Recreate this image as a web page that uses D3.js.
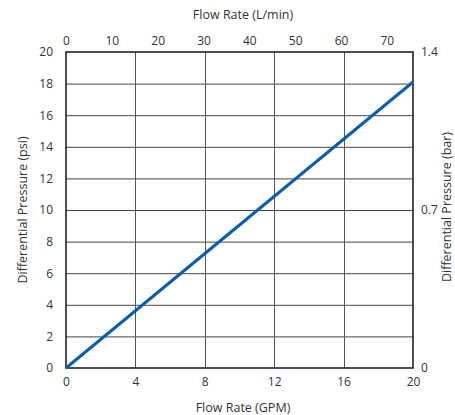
<!DOCTYPE html>
<html><head><meta charset="utf-8">
<script src="https://cdn.jsdelivr.net/npm/d3@7"></script>
<style>
body{margin:0;background:#fff;}
text{font-family:"Open Sans","Noto Sans",sans-serif;fill:#333;}
</style></head>
<body><svg id="c" width="455" height="415"></svg>
<script>
const gpm = [0, 20];
const psi = [0, 18.1];
const gpmTicks = [0, 4, 8, 12, 16, 20];
const psiTicks = [0, 2, 4, 6, 8, 10, 12, 14, 16, 18, 20];
const lpmTicks = [0, 10, 20, 30, 40, 50, 60, 70];
const barTicks = [0, 0.7, 1.4];

const svg = d3.select("#c");
const m = {l:66, r:413, t:52, b:368};
const x = d3.scaleLinear().domain([0,20]).range([m.l, m.r]);
const xL = d3.scaleLinear().domain([0,20*3.785]).range([m.l, m.r]);
const y = d3.scaleLinear().domain([0,20]).range([m.b, m.t]);
const yB = d3.scaleLinear().domain([0,1.4]).range([m.b, m.t]);

// grid
svg.append("g").selectAll("line").data(psiTicks.slice(1,-1)).join("line")
  .attr("x1", m.l).attr("x2", m.r).attr("y1", d=>y(d)+0.5).attr("y2", d=>y(d)+0.5)
  .attr("stroke", "#444").attr("stroke-width", 1);
svg.append("g").selectAll("line").data(gpmTicks.slice(1,-1)).join("line")
  .attr("y1", m.t).attr("y2", m.b).attr("x1", d=>Math.round(x(d))+0.5).attr("x2", d=>Math.round(x(d))+0.5)
  .attr("stroke", "#555").attr("stroke-width", 1);
// frame
svg.append("rect").attr("x", m.l).attr("y", m.t).attr("width", m.r-m.l).attr("height", m.b-m.t)
  .attr("fill","none").attr("stroke","#222").attr("stroke-width",1.6);

// axes (labels only)
const fs = 12;
svg.append("g").attr("transform",`translate(${m.l},0)`)
  .call(d3.axisLeft(y).tickValues(psiTicks).tickSize(0).tickPadding(13))
  .call(g=>{g.select(".domain").remove(); g.selectAll("text").style("font-size",fs+"px").attr("font-family",null).attr("fill","#333");});
svg.append("g").attr("transform",`translate(${m.r},0)`)
  .call(d3.axisRight(yB).tickValues(barTicks).tickFormat(d3.format("")).tickSize(0).tickPadding(8))
  .call(g=>{g.select(".domain").remove(); g.selectAll("text").style("font-size",fs+"px").attr("font-family",null).attr("fill","#333");});
svg.append("g").attr("transform",`translate(0,${m.b})`)
  .call(d3.axisBottom(x).tickValues(gpmTicks).tickSize(0).tickPadding(9))
  .call(g=>{g.select(".domain").remove(); g.selectAll("text").style("font-size",fs+"px").attr("font-family",null).attr("fill","#333");});
svg.append("g").attr("transform",`translate(0,${m.t})`)
  .call(d3.axisTop(xL).tickValues(lpmTicks).tickSize(0).tickPadding(7))
  .call(g=>{g.select(".domain").remove(); g.selectAll("text").style("font-size",fs+"px").attr("font-family",null).attr("fill","#333");});

// titles
svg.append("text").attr("x", 243).attr("y", 19).attr("text-anchor","middle").style("font-size","12.5px").text("Flow Rate (L/min)");
svg.append("text").attr("x", 243).attr("y", 412).attr("text-anchor","middle").style("font-size","12.5px").text("Flow Rate (GPM)");
svg.append("text").attr("transform","translate(27,210) rotate(-90)").attr("text-anchor","middle").style("font-size","12.5px").text("Differential Pressure (psi)");
svg.append("text").attr("transform","translate(451,207) rotate(-90)").attr("text-anchor","middle").style("font-size","12.5px").text("Differential Pressure (bar)");

// line
svg.append("path").datum(gpm.map((g,i)=>[g, psi[i]]))
  .attr("d", d3.line().x(d=>x(d[0])).y(d=>y(d[1])))
  .attr("fill","none").attr("stroke","#0a5dab").attr("stroke-width",3);
</script></body></html>
